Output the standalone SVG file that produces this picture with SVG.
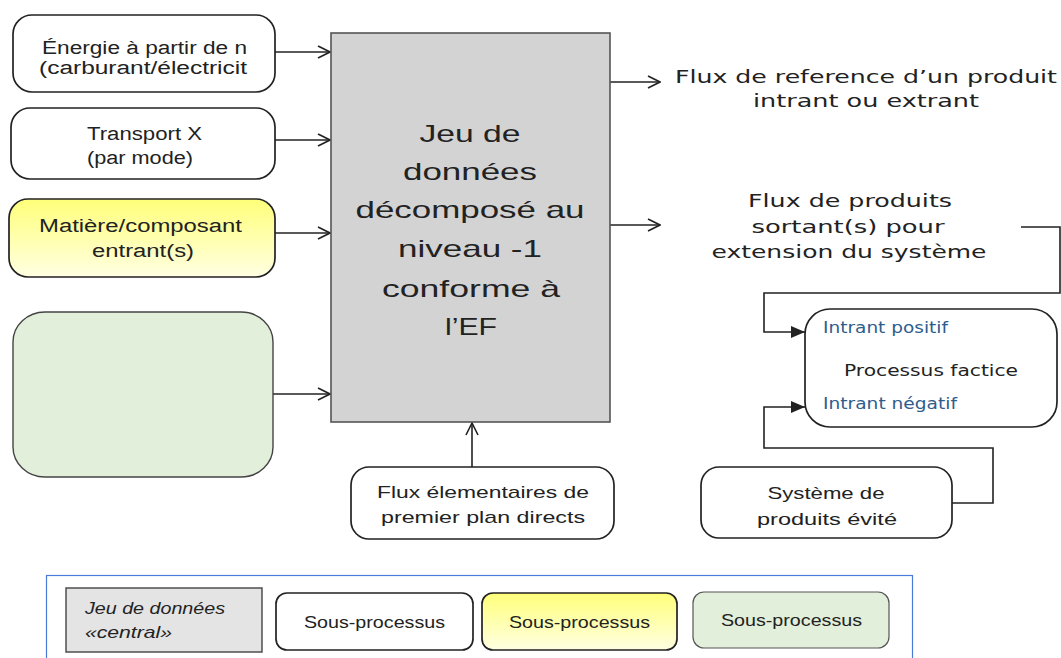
<svg xmlns="http://www.w3.org/2000/svg" width="1061" height="658" viewBox="0 0 1061 658">
<style>
.box{fill:#fff;stroke:#222;stroke-width:1.7}
.cal{font-family:"Liberation Sans",Arial,sans-serif;fill:#222}
.ver{font-family:"DejaVu Sans",Verdana,sans-serif;fill:#222}
.blue{font-family:"DejaVu Sans",Verdana,sans-serif;fill:#2F5D8C}
.ln{fill:none;stroke:#222;stroke-width:1.6}
</style>
<defs>
<linearGradient id="yel" x1="0" y1="0" x2="0" y2="1">
<stop offset="0" stop-color="#FFFF7A"/>
<stop offset="1" stop-color="#FFFFE2"/>
</linearGradient>
<marker id="open" viewBox="0 0 14 14" refX="13" refY="7" markerWidth="14" markerHeight="14" markerUnits="userSpaceOnUse" orient="auto">
<path d="M1,1 L13,7 L1,13" fill="none" stroke="#222" stroke-width="1.6"/>
</marker>
<marker id="fill" viewBox="0 0 14 12" refX="14" refY="6" markerWidth="14" markerHeight="12" markerUnits="userSpaceOnUse" orient="auto">
<path d="M0,0 L14,6 L0,12 Z" fill="#222"/>
</marker>
</defs>
<rect width="1061" height="658" fill="#fff"/>

<g id="connectors">
<path class="ln" d="M275,52 H330" marker-end="url(#open)"/>
<path class="ln" d="M275,140 H330" marker-end="url(#open)"/>
<path class="ln" d="M275,233 H330" marker-end="url(#open)"/>
<path class="ln" d="M273,394 H330" marker-end="url(#open)"/>
<path class="ln" d="M472,467 V423" marker-end="url(#open)"/>
<path class="ln" d="M610,82 H660" marker-end="url(#open)"/>
<path class="ln" d="M610,225 H660" marker-end="url(#open)"/>
<path class="ln" d="M1021,227 H1060 V293 H764 V332 H805" marker-end="url(#fill)"/>
<path class="ln" d="M952,503 H993 V448 H764 V407 H805" marker-end="url(#fill)"/>
</g>

<g id="energie">
<rect class="box" x="13" y="15" width="262" height="77" rx="19"/>
<text class="cal" font-size="18" x="42" y="54" textLength="205" lengthAdjust="spacingAndGlyphs">Énergie à partir de n</text>
<text class="cal" font-size="18" x="39" y="74" textLength="208" lengthAdjust="spacingAndGlyphs">(carburant/électricit</text>
</g>

<g id="transport">
<rect class="box" x="11" y="108" width="264" height="71" rx="19"/>
<text class="cal" font-size="18" x="87" y="140" textLength="115" lengthAdjust="spacingAndGlyphs">Transport X</text>
<text class="cal" font-size="18" x="87" y="164" textLength="106" lengthAdjust="spacingAndGlyphs">(par mode)</text>
</g>

<g id="matiere">
<rect class="box" x="9" y="199" width="266" height="78" rx="19" style="fill:url(#yel)"/>
<text class="cal" font-size="18" x="39" y="232" textLength="203" lengthAdjust="spacingAndGlyphs">Matière/composant</text>
<text class="cal" font-size="18" x="92" y="257" textLength="102" lengthAdjust="spacingAndGlyphs">entrant(s)</text>
</g>

<g id="vert">
<rect x="13" y="312" width="260" height="165" rx="32" ry="30" fill="#E2EFDA" stroke="#444" stroke-width="1.4"/>
</g>

<g id="central">
<rect x="331" y="33" width="279" height="389" fill="#D3D3D3" stroke="#555" stroke-width="1.6"/>
<g class="cal" font-size="24" text-anchor="middle">
<text x="470" y="142" textLength="101" lengthAdjust="spacingAndGlyphs">Jeu de</text>
<text x="470" y="180" textLength="134" lengthAdjust="spacingAndGlyphs">données</text>
<text x="470" y="218" textLength="229" lengthAdjust="spacingAndGlyphs">décomposé au</text>
<text x="470" y="257" textLength="144" lengthAdjust="spacingAndGlyphs">niveau -1</text>
<text x="471" y="297" textLength="178" lengthAdjust="spacingAndGlyphs">conforme à</text>
<text x="471" y="335" textLength="52" lengthAdjust="spacingAndGlyphs">l’EF</text>
</g>
</g>

<g id="flux-reference">
<text class="ver" font-size="18" x="866" y="83" text-anchor="middle" textLength="382" lengthAdjust="spacingAndGlyphs">Flux de reference d’un produit</text>
<text class="ver" font-size="18" x="866" y="107" text-anchor="middle" textLength="226" lengthAdjust="spacingAndGlyphs">intrant ou extrant</text>
</g>

<g id="flux-produits">
<text class="ver" font-size="18" x="850" y="207" text-anchor="middle" textLength="204" lengthAdjust="spacingAndGlyphs">Flux de produits</text>
<text class="ver" font-size="18" x="848" y="233" text-anchor="middle" textLength="193" lengthAdjust="spacingAndGlyphs">sortant(s) pour</text>
<text class="ver" font-size="18" x="849" y="258" text-anchor="middle" textLength="275" lengthAdjust="spacingAndGlyphs">extension du système</text>
</g>

<g id="processus-factice">
<rect class="box" x="805" y="309" width="252" height="118" rx="25"/>
<text class="blue" font-size="15" x="823" y="333" textLength="125" lengthAdjust="spacingAndGlyphs">Intrant positif</text>
<text class="ver" font-size="16" x="844" y="376" textLength="174" lengthAdjust="spacingAndGlyphs">Processus factice</text>
<text class="blue" font-size="15" x="823" y="409" textLength="134" lengthAdjust="spacingAndGlyphs">Intrant négatif</text>
</g>

<g id="systeme-evite">
<rect class="box" x="701" y="467" width="251" height="71" rx="18"/>
<text class="cal" font-size="17" x="826" y="499" text-anchor="middle" textLength="117" lengthAdjust="spacingAndGlyphs">Système de</text>
<text class="cal" font-size="17" x="827" y="525" text-anchor="middle" textLength="140" lengthAdjust="spacingAndGlyphs">produits évité</text>
</g>

<g id="flux-elementaires">
<rect class="box" x="351" y="467" width="263" height="72" rx="18"/>
<text class="cal" font-size="17" x="483" y="498" text-anchor="middle" textLength="212" lengthAdjust="spacingAndGlyphs">Flux élementaires de</text>
<text class="cal" font-size="17" x="483" y="523" text-anchor="middle" textLength="204" lengthAdjust="spacingAndGlyphs">premier plan directs</text>
</g>

<g id="legende">
<rect x="46.5" y="575.5" width="866" height="100" fill="#fff" stroke="#4A7BD8" stroke-width="1.2"/>
<rect x="66" y="588" width="196" height="64" fill="#E4E4E4" stroke="#444" stroke-width="1.4"/>
<text class="cal" font-size="17" font-style="italic" x="85" y="614" textLength="140" lengthAdjust="spacingAndGlyphs">Jeu de données</text>
<text class="cal" font-size="17" font-style="italic" x="85" y="638" textLength="87" lengthAdjust="spacingAndGlyphs">«central»</text>
<rect class="box" x="276" y="593" width="197" height="57" rx="11"/>
<text class="cal" font-size="17" x="374.5" y="628" text-anchor="middle" textLength="141" lengthAdjust="spacingAndGlyphs">Sous-processus</text>
<rect x="482" y="593" width="195" height="57" rx="11" fill="url(#yel)" stroke="#222" stroke-width="1.7"/>
<text class="cal" font-size="17" x="579.5" y="628" text-anchor="middle" textLength="141" lengthAdjust="spacingAndGlyphs">Sous-processus</text>
<rect x="693" y="592" width="196" height="56" rx="11" fill="#E2EFDA" stroke="#555" stroke-width="1.2"/>
<text class="cal" font-size="17" x="791.5" y="626" text-anchor="middle" textLength="141" lengthAdjust="spacingAndGlyphs">Sous-processus</text>
</g>
</svg>
